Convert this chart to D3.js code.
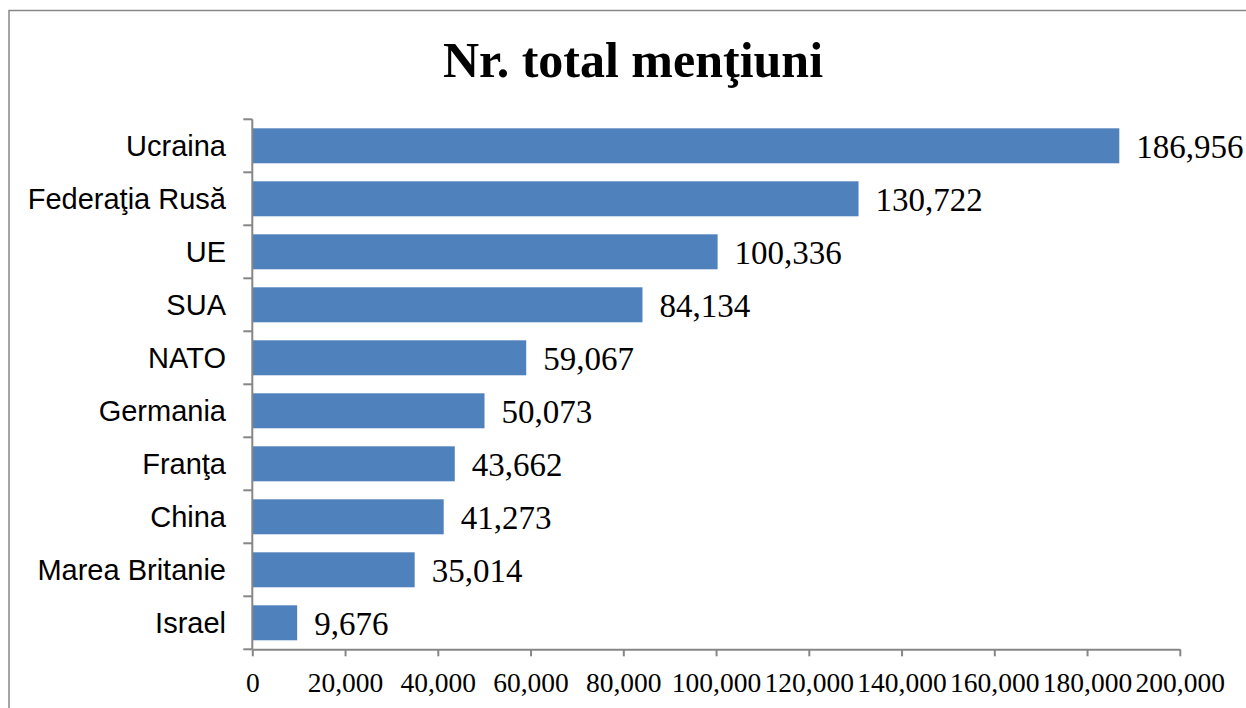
<!DOCTYPE html>
<html>
<head>
<meta charset="utf-8">
<script src="https://cdn.jsdelivr.net/npm/d3@7"></script>
<style>
  html, body { margin: 0; padding: 0; background: #fff; }
  svg { display: block; }
</style>
</head>
<body>
<svg id="chart" width="1246" height="708"></svg>
<script>
const categories = ["Ucraina", "Federaţia Rusă", "UE", "SUA", "NATO", "Germania", "Franţa", "China", "Marea Britanie", "Israel"];
const values = [186956, 130722, 100336, 84134, 59067, 50073, 43662, 41273, 35014, 9676];
const tickValues = [0, 20000, 40000, 60000, 80000, 100000, 120000, 140000, 160000, 180000, 200000];
const chartTitle = "Nr. total menţiuni";

(function () {
const svg = d3.select("#chart");
const W = 1246, H = 708;

// chart border
svg.append("rect")
  .attr("x", 9).attr("y", 10.5)
  .attr("width", W + 10).attr("height", H + 10)
  .attr("fill", "none").attr("stroke", "#888").attr("stroke-width", 1.5);

const mLeft = 252.3, mRight = 1179.8, mTop = 119.3, mBottom = 649.3;

const x = d3.scaleLinear().domain([0, 200000]).range([mLeft, mRight]);
const y = d3.scaleBand().domain(categories).range([mTop, mBottom]).paddingInner(0.34).paddingOuter(0.17);

// title
svg.append("text")
  .attr("x", 633).attr("y", 77)
  .attr("text-anchor", "middle")
  .attr("font-family", "'Liberation Serif', serif")
  .attr("font-weight", "bold")
  .attr("font-size", 50)
  .attr("fill", "#000")
  .text(chartTitle);

// bars
svg.append("g").selectAll("rect")
  .data(categories)
  .join("rect")
  .attr("x", x(0))
  .attr("y", d => y(d))
  .attr("width", (d, i) => x(values[i]) - x(0))
  .attr("height", y.bandwidth())
  .attr("fill", "#4f81bd");

// value labels
svg.append("g").selectAll("text")
  .data(categories)
  .join("text")
  .attr("x", (d, i) => x(values[i]) + 17)
  .attr("y", d => y(d) + y.bandwidth() / 2)
  .attr("dy", "0.36em")
  .attr("font-family", "'Liberation Serif', serif")
  .attr("font-size", 33)
  .attr("fill", "#000")
  .text((d, i) => d3.format(",")(values[i]));

// x axis
const xAxis = svg.append("g")
  .attr("transform", `translate(0,${mBottom})`)
  .call(d3.axisBottom(x).tickValues(tickValues).tickFormat(d3.format(",")).tickSize(7).tickSizeOuter(0));
xAxis.select(".domain").attr("stroke", "#868686").attr("stroke-width", 2);
xAxis.selectAll(".tick line").attr("stroke", "#868686").attr("stroke-width", 2);
xAxis.selectAll(".tick text")
  .attr("font-family", "'Liberation Serif', serif")
  .attr("font-size", 27.5)
  .attr("fill", "#000")
  .attr("y", 43)
  .attr("dy", "0");

// y axis line with ticks at band boundaries
const yAxisG = svg.append("g");
yAxisG.append("line")
  .attr("x1", mLeft).attr("x2", mLeft)
  .attr("y1", mTop).attr("y2", mBottom)
  .attr("stroke", "#868686").attr("stroke-width", 2);
const boundaries = categories.map(d => y(d) - y.step() * y.paddingInner() / 2).concat([mBottom]);
boundaries[0] = mTop;
yAxisG.selectAll("line.tk")
  .data(boundaries)
  .join("line")
  .attr("class", "tk")
  .attr("x1", mLeft - 9).attr("x2", mLeft)
  .attr("y1", d => d).attr("y2", d => d)
  .attr("stroke", "#868686").attr("stroke-width", 2);

// category labels
svg.append("g").selectAll("text")
  .data(categories)
  .join("text")
  .attr("x", 226)
  .attr("y", d => y(d) + y.bandwidth() / 2)
  .attr("dy", "0.35em")
  .attr("text-anchor", "end")
  .attr("font-family", "'Liberation Sans', Arial, sans-serif")
  .attr("font-size", 29)
  .attr("fill", "#000")
  .text(d => d);
})();
</script>
</body>
</html>
